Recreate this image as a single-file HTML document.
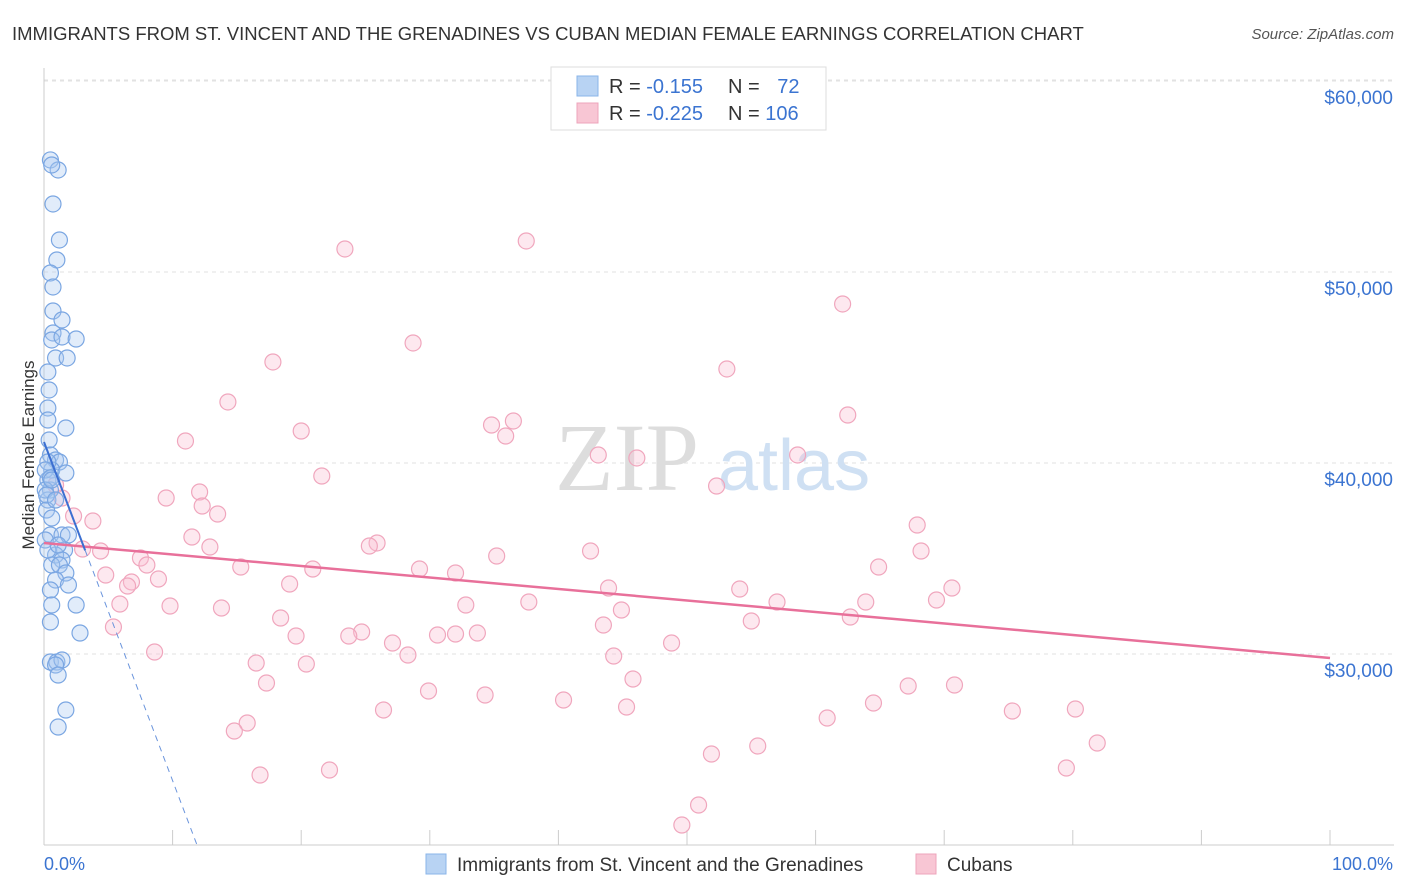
<!DOCTYPE html>
<html><head><meta charset="utf-8"><style>
body{margin:0;background:#fff;font-family:"Liberation Sans",sans-serif;}
svg{display:block}
</style></head><body>
<svg id="chart" width="1406" height="892" viewBox="0 0 1406 892" xmlns="http://www.w3.org/2000/svg">
<text x="12" y="40" font-size="18.5" fill="#333">IMMIGRANTS FROM ST. VINCENT AND THE GRENADINES VS CUBAN MEDIAN FEMALE EARNINGS CORRELATION CHART</text>
<text x="1394" y="39" font-size="15" fill="#555" font-style="italic" text-anchor="end">Source: ZipAtlas.com</text>
<g id="grid"></g>
<g id="yticks"></g>
<g id="xaxis"></g>
<text x="555" y="490" font-size="96" fill="#ddd" font-family="Liberation Serif,serif">ZIP</text>
<text x="718" y="490" font-size="72" fill="#cfe0f3">atlas</text>
<text transform="translate(34,455) rotate(-90)" font-size="17" fill="#333" text-anchor="middle">Median Female Earnings</text>
<g id="pink"></g>
<g id="blue"></g>
<g id="trends"></g>
<g>
<rect x="551" y="67" width="275" height="63" fill="#fff" stroke="#ddd"/>
<rect x="577" y="76" width="21" height="20" fill="#b8d3f3" stroke="#8ab4e8"/>
<rect x="577" y="103" width="21" height="20" fill="#f8c6d4" stroke="#eea4bb"/>
<text x="609" y="93" font-size="20" fill="#333">R = <tspan fill="#3b74d1">-0.155</tspan></text>
<text x="728" y="93" font-size="20" fill="#333">N = <tspan fill="#3b74d1" dx="12">72</tspan></text>
<text x="609" y="120" font-size="20" fill="#333">R = <tspan fill="#3b74d1">-0.225</tspan></text>
<text x="728" y="120" font-size="20" fill="#333">N = <tspan fill="#3b74d1">106</tspan></text>
</g>
<g>
<rect x="426" y="854" width="20" height="20" fill="#b8d3f3" stroke="#8ab4e8"/>
<text x="457" y="871" font-size="19" fill="#333">Immigrants from St. Vincent and the Grenadines</text>
<rect x="916" y="854" width="20" height="20" fill="#f8c6d4" stroke="#eea4bb"/>
<text x="947" y="871" font-size="19" fill="#333">Cubans</text>
</g>
</svg>
<script>
const yTickValues=[30000,40000,50000,60000];
const yTickLabels=["$30,000","$40,000","$50,000","$60,000"];
const xTickLabels=["0.0%","100.0%"];
const blueX=[0.5,1.1,0.6,0.7,1.2,1.0,0.5,0.7,0.7,1.4,0.7,0.6,1.4,2.5,0.9,1.8,0.3,0.4,0.3,0.3,1.7,0.4,0.5,0.9,1.2,0.6,1.7,0.3,0.5,0.3,0.2,0.6,0.5,1.4,1.9,1.6,0.9,1.4,0.6,1.2,1.7,0.9,1.9,0.5,0.6,2.5,0.5,2.8,0.5,1.0,1.4,0.9,1.1,1.7,1.1,0.3,0.1,0.5,0.1,0.2,0.6,0.9,0.1,0.3,1.1];
const blueY=[55866,55342,55604,53562,51677,50630,49949,49216,47959,47488,46808,46441,46598,46493,45499,45499,44766,43823,42881,42252,41833,41205,40420,40158,40053,39634,39477,39111,38587,38063,37540,37121,36231,36231,36231,35445,35184,34922,34660,34660,34241,33875,33613,33351,32566,32566,31676,31100,29581,29581,29686,29424,28900,27068,26178,40053,39634,39215,38587,38325,39111,38063,35969,35445,35707];
const pinkX=[37.5,23.4,62.1,28.7,17.8,53.1,14.3,62.5,36.5,34.8,20.0,35.9,11.0,43.1,46.1,58.6,52.3,21.6,9.5,12.1,1.4,0.9,12.3,13.5,3.8,2.3,67.9,11.5,25.9,25.3,12.9,42.5,35.2,68.2,4.4,3.0,7.5,8.0,64.9,15.3,20.9,29.2,32.0,4.8,8.9,6.8,6.5,19.1,43.9,54.1,70.6,69.4,63.9,57.0,37.7,32.8,5.9,9.8,13.8,44.9,62.7,55.0,18.4,43.5,5.4,24.7,23.7,33.7,32.0,30.6,19.6,27.1,48.8,28.3,8.6,44.3,16.5,20.4,45.8,17.3,29.9,34.3,67.2,70.8,64.5,40.4,45.3,26.4,75.3,80.2,60.9,15.8,14.8,81.9,55.5,51.9,79.5,22.2,16.8,50.9,49.6];
const pinkY=[51625,51206,48326,46284,45289,44923,43195,42514,42200,41990,41676,41414,41153,40420,40263,40420,38796,39320,38168,38482,38168,38849,37749,37330,36964,37226,36754,36126,35812,35655,35603,35393,35131,35393,35393,35498,35027,34660,34555,34555,34451,34451,34241,34136,33927,33770,33560,33665,33456,33403,33456,32827,32723,32723,32723,32566,32618,32513,32409,32304,31937,31728,31885,31518,31414,31152,30942,31100,31047,30995,30942,30576,30576,29948,30105,29895,29529,29476,28691,28482,28063,27853,28325,28377,27434,27591,27225,27068,27016,27120,26649,26387,25968,25340,25183,24764,24031,23926,23664,22094,21046];
const blueTrend=[41100,20000];
const blueTrendX=[0,11.9];
const blueSolidEnd=3.2;
const pinkTrend=[35812,29791];
const NS="http://www.w3.org/2000/svg";
const X0=44,X1=1330,YB=845;
function xs(p){return X0+(X1-X0)*p/100;}
function ys(v){return YB-(v-20000)*191/10000;}
function mk(tag,attrs,parent){const e=document.createElementNS(NS,tag);for(const k in attrs)e.setAttribute(k,attrs[k]);parent.appendChild(e);return e;}
const grid=document.getElementById('grid'),yt=document.getElementById('yticks'),xa=document.getElementById('xaxis');
yTickValues.forEach((v,i)=>{
 const l=mk('line',{x1:X0,x2:1394,y1:ys(v),y2:ys(v),stroke:'#e2e2e2','stroke-dasharray':'4,4'},grid);
 
 
 const t=mk('text',{x:1393,y:ys(v)+23,'font-size':19,fill:'#3b74d1','text-anchor':'end'},yt);
 t.textContent=yTickLabels[i];
 
 
});
const topGrid=mk('line',{x1:X0,x2:1394,y1:80,y2:80,stroke:'#e2e2e2','stroke-dasharray':'4,4'},grid);


mk('line',{x1:X0,x2:X0,y1:68,y2:YB,stroke:'#ccc'},xa);
mk('line',{x1:X0,x2:1394,y1:YB,y2:YB,stroke:'#ccc'},xa);
for(let i=0;i<=10;i++){const x=xs(i*10);const t=mk('line',{x1:x,x2:x,y1:830,y2:YB,stroke:'#ccc'},xa);
 
 }
const xl0=mk('text',{x:44,y:870,'font-size':18,fill:'#3b74d1'},xa);xl0.textContent=xTickLabels[0];


const xl1=mk('text',{x:1393,y:870,'font-size':18,fill:'#3b74d1','text-anchor':'end'},xa);xl1.textContent=xTickLabels[1];


const pg=document.getElementById('pink');
pinkX.forEach((p,i)=>{const c=mk('circle',{cx:xs(p),cy:ys(pinkY[i]),r:8,fill:'rgba(248,190,208,0.35)',stroke:'#f0a6bd','stroke-width':1.2},pg);
 
 });
const bg=document.getElementById('blue');
blueX.forEach((p,i)=>{const c=mk('circle',{cx:xs(p),cy:ys(blueY[i]),r:8,fill:'rgba(170,200,240,0.35)',stroke:'#7aa6e2','stroke-width':1.2},bg);
 
 });
const tg=document.getElementById('trends');
const pl=mk('line',{x1:xs(0),y1:ys(pinkTrend[0]),x2:xs(100),y2:ys(pinkTrend[1]),stroke:'#e8709a','stroke-width':2.5},tg);


const slope=(blueTrend[1]-blueTrend[0])/(blueTrendX[1]-blueTrendX[0]);
const yEnd=blueTrend[0]+slope*(blueSolidEnd-blueTrendX[0]);
const bl=mk('line',{x1:xs(blueTrendX[0]),y1:ys(blueTrend[0]),x2:xs(blueSolidEnd),y2:ys(yEnd),stroke:'#3b6fd1','stroke-width':2},tg);


const bd=mk('line',{x1:xs(blueSolidEnd),y1:ys(yEnd),x2:xs(blueTrendX[1]),y2:ys(blueTrend[1]),stroke:'#6a94dc','stroke-width':1,'stroke-dasharray':'6,5'},tg);


</script>
</body></html>
